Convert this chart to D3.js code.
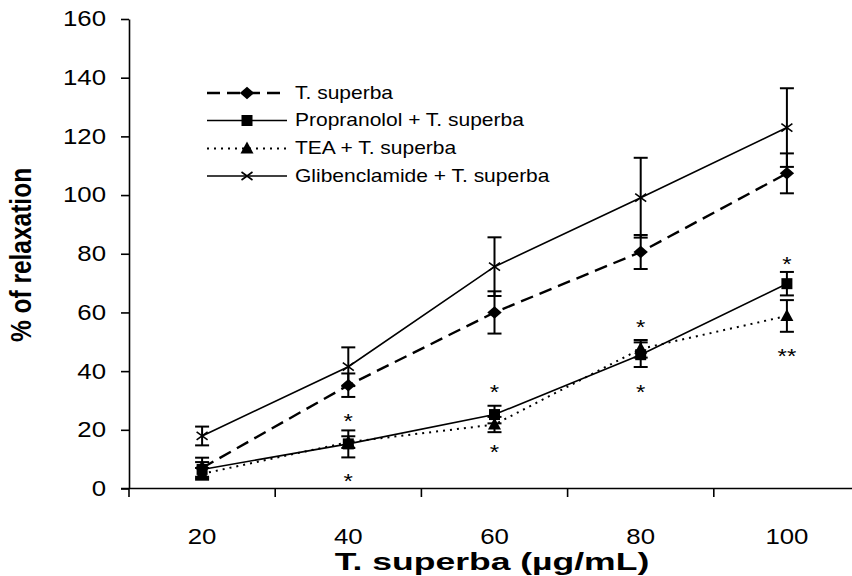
<!DOCTYPE html>
<html>
<head>
<meta charset="utf-8">
<script src="https://cdn.jsdelivr.net/npm/d3@7"></script>
<style>
body { margin: 0; background: #fff; }
text { font-family: "Liberation Sans", Arial, sans-serif; fill: #000; }
</style>
</head>
<body>
<script>
const width = 852;
const height = 576;
const stretch = 1.2; // the source figure's text is widened horizontally

// data (mean and error bar half-length)
const doses = [20, 40, 60, 80, 100];
const superba = [7, 35.2, 60, 80.6, 107.4];
const superbaErr = [3.5, 4, 7.2, 5.8, 6.8];
const propranolol = [6.5, 15.2, 25.2, 45.6, 69.8];
const propranololErr = [2.5, 4.6, 3, 4.2, 4];
const tea = [5, 15.8, 21.8, 47.6, 58.8];
const teaErr = [2, 2, 2.6, 3, 5.4];
const glib = [17.9, 41.5, 75.6, 99.1, 123];
const glibErr = [3.2, 6.6, 10, 13.6, 13.4];
const yTicks = [0, 20, 40, 60, 80, 100, 120, 140, 160];
const seriesNames = ["T. superba", "Propranolol + T. superba", "TEA + T. superba", "Glibenclamide + T. superba"];

// significance marks
const starDoses = [40, 40, 60, 60, 80, 80, 100, 100];
const starValues = [24.4, 3.9, 34.4, 13.8, 56.4, 34.2, 78, 46.5];
const starLabels = ["*", "*", "*", "*", "*", "*", "*", "**"];

let svg = d3.select("body")
    .append("svg")
    .attr("width", width)
    .attr("height", height);

var xScale = d3.scaleBand()
    .domain(doses)
    .range([129, 860]);

var yScale = d3.scaleLinear()
    .domain([0, 160])
    .range([488.5, 19]);

function cx(d) {
    return xScale(d) + xScale.bandwidth() / 2;
}

// widen a text element about its own anchor point
function widen(sel) {
    sel.each(function() {
        let t = d3.select(this);
        let x = +t.attr("x") || 0;
        t.attr("x", x / stretch).attr("transform", "scale(" + stretch + ",1)");
    });
}

// y axis
var yAxis = d3.axisLeft(yScale)
    .tickValues(yTicks)
    .tickSize(8)
    .tickSizeOuter(0)
    .tickPadding(15);

let gy = svg.append("g")
    .attr("transform", "translate(129, 0)")
    .call(yAxis);
gy.selectAll("text").style("font-size", "21.5px").call(widen);
gy.selectAll("line, path").attr("stroke", "#000").attr("stroke-width", 1.6);

// x axis: labels in band centres, ticks on band edges
var xAxis = d3.axisBottom(xScale)
    .tickSize(0)
    .tickSizeOuter(0)
    .tickPadding(40);

let gx = svg.append("g")
    .attr("transform", "translate(0, 488.5)")
    .call(xAxis);
gx.select(".domain").attr("stroke", "#000").attr("stroke-width", 1.6).attr("d", "M121,0H860");
gx.selectAll("text").style("font-size", "21.5px").call(widen);

let edges = doses.map(function(d) { return xScale(d); });
edges.push(xScale(doses[doses.length - 1]) + xScale.bandwidth());
svg.selectAll(".xtick")
    .data(edges)
    .enter()
    .append("line")
    .attr("class", "xtick")
    .attr("x1", function(d) { return d; })
    .attr("x2", function(d) { return d; })
    .attr("y1", 488.5)
    .attr("y2", 497)
    .attr("stroke", "#000")
    .attr("stroke-width", 1.6);

// axis titles
svg.append("text")
    .attr("transform", "translate(492, 570) scale(1.45,1)")
    .attr("text-anchor", "middle")
    .style("font-size", "24.5px")
    .style("font-weight", "bold")
    .text("T. superba (\u00b5g/mL)");

svg.append("text")
    .attr("transform", "translate(31, 255) scale(" + stretch + ",1) rotate(-90)")
    .attr("text-anchor", "middle")
    .style("font-size", "24.5px")
    .style("font-weight", "bold")
    .text("% of relaxation");

let series = [
    { name: seriesNames[0], values: superba, err: superbaErr, dash: "13,7", sw: 2.4, marker: "diamond" },
    { name: seriesNames[1], values: propranolol, err: propranololErr, dash: null, sw: 1.6, marker: "square" },
    { name: seriesNames[2], values: tea, err: teaErr, dash: "2,5", sw: 2, marker: "triangle" },
    { name: seriesNames[3], values: glib, err: glibErr, dash: null, sw: 1.6, marker: "cross" }
];

function drawMarker(g, type, x, y) {
    if (type === "diamond") {
        g.append("path")
            .attr("d", d3.symbol().type(d3.symbolDiamond2).size(100))
            .attr("transform", "translate(" + x + "," + y + ") scale(1.15, 1)")
            .attr("fill", "#000");
    } else if (type === "square") {
        g.append("rect")
            .attr("x", x - 5.5).attr("y", y - 5.5)
            .attr("width", 11).attr("height", 11)
            .attr("fill", "#000");
    } else if (type === "triangle") {
        g.append("path")
            .attr("d", "M" + x + "," + (y - 7) + "L" + (x + 6.5) + "," + (y + 5) + "L" + (x - 6.5) + "," + (y + 5) + "Z")
            .attr("fill", "#000");
    } else {
        g.append("path")
            .attr("d", "M" + (x - 5.5) + "," + (y - 4) + "L" + (x + 5.5) + "," + (y + 4) + "M" + (x - 5.5) + "," + (y + 4) + "L" + (x + 5.5) + "," + (y - 4))
            .attr("stroke", "#000")
            .attr("stroke-width", 1.6)
            .attr("fill", "none");
    }
}

var line = d3.line()
    .x(function(d, i) { return cx(doses[i]); })
    .y(function(d) { return yScale(d); });

series.forEach(function(s) {
    let g = svg.append("g");
    // error bars
    s.values.forEach(function(v, i) {
        let x = cx(doses[i]);
        let top = yScale(v + s.err[i]);
        let bot = yScale(v - s.err[i]);
        g.append("line").attr("x1", x).attr("x2", x).attr("y1", top).attr("y2", bot)
            .attr("stroke", "#000").attr("stroke-width", 2);
        g.append("line").attr("x1", x - 7).attr("x2", x + 7).attr("y1", top).attr("y2", top)
            .attr("stroke", "#000").attr("stroke-width", 2);
        g.append("line").attr("x1", x - 7).attr("x2", x + 7).attr("y1", bot).attr("y2", bot)
            .attr("stroke", "#000").attr("stroke-width", 2);
    });
    g.append("path")
        .datum(s.values)
        .attr("d", line)
        .attr("fill", "none")
        .attr("stroke", "#000")
        .attr("stroke-width", s.sw)
        .attr("stroke-dasharray", s.dash);
    s.values.forEach(function(v, i) {
        drawMarker(g, s.marker, cx(doses[i]), yScale(v));
    });
});

// stars
svg.selectAll(".star")
    .data(starValues)
    .enter()
    .append("text")
    .attr("class", "star")
    .attr("x", function(d, i) { return cx(starDoses[i]); })
    .attr("y", function(d) { return yScale(d) + 11; })
    .attr("text-anchor", "middle")
    .style("font-size", "20px")
    .text(function(d, i) { return starLabels[i]; })
    .call(widen);

// legend
let legendY = [93, 120.5, 148.5, 176];
series.forEach(function(s, i) {
    let g = svg.append("g");
    g.append("line")
        .attr("x1", 207).attr("x2", 287)
        .attr("y1", legendY[i]).attr("y2", legendY[i])
        .attr("stroke", "#000")
        .attr("stroke-width", s.sw)
        .attr("stroke-dasharray", s.dash);
    drawMarker(g, s.marker, 247, legendY[i]);
    g.append("text")
        .attr("x", 295)
        .attr("y", legendY[i] + 6)
        .style("font-size", "17.5px")
        .text(s.name)
        .call(widen);
});
</script>
</body>
</html>
